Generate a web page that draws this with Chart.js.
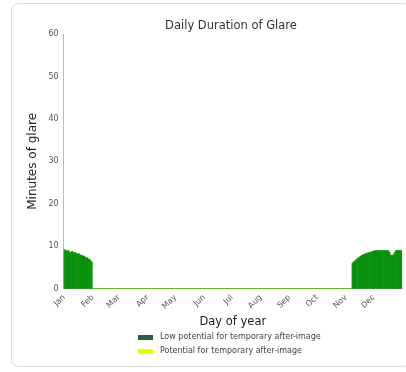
<!DOCTYPE html>
<html><head><meta charset="utf-8">
<script src="https://cdn.jsdelivr.net/npm/chart.js@4.4.1/dist/chart.umd.min.js"></script>
<style>
html,body{margin:0;padding:0;background:#fff;width:406px;height:372px;overflow:hidden;font-family:"DejaVu Sans",sans-serif;}
#card{position:absolute;left:11px;top:3px;width:400px;height:364px;border:1px solid #dcdcdc;border-radius:8px;box-sizing:border-box;}
#wrap{position:absolute;left:0;top:0;width:406px;height:372px;}
#title{position:absolute;left:131px;width:200px;top:18px;text-align:center;font-size:11.5px;color:#333;}
#legend{position:absolute;left:138px;top:330px;font-size:8px;color:#444;line-height:14px;}
#legend .it{display:flex;align-items:center;height:14px;}
#legend .sw{width:15px;height:5px;margin-right:7px;}
</style></head>
<body>
<div id="card"></div>
<div id="wrap"><canvas id="c" width="406" height="372"></canvas></div>
<div id="title">Daily Duration of Glare</div>
<div id="legend">
  <div class="it"><span class="sw" style="background:#2b5e3e"></span>Low potential for temporary after-image</div>
  <div class="it"><span class="sw" style="background:#e4ff00"></span>Potential for temporary after-image</div>
</div>
<script>
const monthNames = ["Jan","Feb","Mar","Apr","May","Jun","Jul","Aug","Sep","Oct","Nov","Dec"];
const monthStartDays = [1,32,60,91,121,152,182,213,244,274,305,335];
const yTicks = [0,10,20,30,40,50,60];
// Minutes of glare, Jan 1 - Jan 31
const janValues = [9.2,9.0,9.1,8.8,8.9,9.0,8.6,8.4,8.7,8.8,8.5,8.3,8.6,8.4,8.2,8.1,8.3,8.0,7.9,7.8,7.8,7.6,7.7,7.4,7.2,7.3,7.0,7.0,6.8,6.5,6.2];
// Minutes of glare, day 312 - day 365
const novDecStartDay = 312;
const novDecValues = [5.9,6.2,6.4,6.6,6.8,7.0,7.2,
  7.3,7.5,7.6,7.8,7.9,8.0,8.1,
  8.2,8.3,8.4,8.4,8.5,8.6,8.6,8.7,8.8,8.8,8.9,
  9.0,8.9,9.0,9.0,8.9,9.0,9.0,8.9,9.0,9.0,8.9,9.0,9.0,9.0,8.9,8.6,
  8.0,7.8,7.8,7.9,8.2,8.6,
  9.0,9.0,9.0,9.0,9.0,9.0,9.0];
const potentialValues = []; // no days with potential for after-image

const days = [];
const lowSeries = [];
const potSeries = [];
for (let d = 1; d <= 365; d++) {
  days.push(d);
  let v = 0;
  if (d <= janValues.length) v = janValues[d-1];
  else if (d >= novDecStartDay) v = novDecValues[d-novDecStartDay];
  lowSeries.push(v);
  potSeries.push(0);
}

new Chart(document.getElementById('c'), {
  type: 'bar',
  data: {
    labels: days,
    datasets: [
      {label:'Low potential for temporary after-image', data: lowSeries, backgroundColor:'#0a900e', borderWidth:0, barPercentage:1, categoryPercentage:1},
      {label:'Potential for temporary after-image', data: potSeries, backgroundColor:'#e4ff00', borderWidth:0, barPercentage:1, categoryPercentage:1}
    ]
  },
  options: {
    responsive:false, animation:false,
    layout:{padding:{left:26,right:4,top:34,bottom:43}},
    plugins:{
      legend:{display:false},
      tooltip:{enabled:false},
      title:{display:false}
    },
    scales:{
      x:{
        stacked:true,
        grid:{display:false,drawTicks:true,tickLength:3,tickColor:'#999'},
        border:{display:true,color:'#bbb'},
        ticks:{autoSkip:false,maxRotation:45,minRotation:45,color:'#555',font:{family:'DejaVu Sans',size:8},padding:1,
          callback:function(v,i){const d=days[i];const k=monthStartDays.indexOf(d);return k>=0?monthNames[k]:null;}},
        title:{display:true,text:'Day of year',color:'#222',font:{family:'DejaVu Sans',size:11.5},padding:{top:3,bottom:0}}
      },
      y:{
        stacked:true,min:0,max:60,
        afterBuildTicks:function(ax){ax.ticks=yTicks.map(v=>({value:v}));},
        grid:{display:false,drawTicks:true,tickLength:3,tickColor:'#999'},
        border:{display:true,color:'#bbb'},
        ticks:{color:'#555',font:{family:'DejaVu Sans',size:8},padding:2},
        title:{display:true,text:'Minutes of glare',color:'#222',font:{family:'DejaVu Sans',size:12},padding:{top:0,bottom:6}}
      }
    }
  }
});
</script>
</body></html>
